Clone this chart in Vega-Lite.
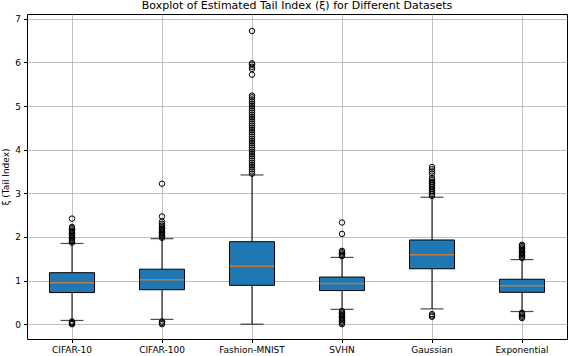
{
  "$schema": "https://vega.github.io/schema/vega-lite/v6.json",
  "width": 540,
  "height": 325,
  "autosize": "none",
  "padding": {"left": 27, "top": 14, "right": 5, "bottom": 17},
  "background": "white",
  "title": {"text": "Boxplot of Estimated Tail Index (ξ) for Different Datasets", "font": "DejaVu Sans", "fontSize": 11, "fontWeight": "normal", "color": "black", "anchor": "middle", "offset": 3},
  "config": {
    "view": {"stroke": "black", "strokeWidth": 1},
    "axis": {"labelFont": "DejaVu Sans", "titleFont": "DejaVu Sans", "labelFontSize": 9, "titleFontSize": 9, "labelColor": "black", "titleColor": "black", "titleFontWeight": "normal", "domain": false, "tickColor": "black", "tickSize": 3.5, "gridColor": "#b0b0b0", "gridWidth": 0.8, "gridOpacity": 1}
  },
  "datasets": {
    "stats": [
      {"dataset": "CIFAR-10", "lo": 0.085, "q1": 0.725, "median": 0.95, "q3": 1.18, "hi": 1.85},
      {"dataset": "CIFAR-100", "lo": 0.11, "q1": 0.79, "median": 1.02, "q3": 1.26, "hi": 1.96},
      {"dataset": "Fashion-MNIST", "lo": 0.0, "q1": 0.89, "median": 1.33, "q3": 1.89, "hi": 3.42},
      {"dataset": "SVHN", "lo": 0.34, "q1": 0.77, "median": 0.93, "q3": 1.08, "hi": 1.53},
      {"dataset": "Gaussian", "lo": 0.35, "q1": 1.27, "median": 1.59, "q3": 1.93, "hi": 2.91},
      {"dataset": "Exponential", "lo": 0.29, "q1": 0.73, "median": 0.88, "q3": 1.03, "hi": 1.48}
    ],
    "outliers": [
      {"dataset": "CIFAR-10", "value": 1.87}, {"dataset": "CIFAR-10", "value": 1.9}, {"dataset": "CIFAR-10", "value": 1.93}, {"dataset": "CIFAR-10", "value": 1.96}, {"dataset": "CIFAR-10", "value": 1.99}, {"dataset": "CIFAR-10", "value": 2.02}, {"dataset": "CIFAR-10", "value": 2.05}, {"dataset": "CIFAR-10", "value": 2.08}, {"dataset": "CIFAR-10", "value": 2.11}, {"dataset": "CIFAR-10", "value": 2.14}, {"dataset": "CIFAR-10", "value": 2.17}, {"dataset": "CIFAR-10", "value": 2.2}, {"dataset": "CIFAR-10", "value": 2.23}, {"dataset": "CIFAR-10", "value": 2.42},
      {"dataset": "CIFAR-10", "value": 0.0}, {"dataset": "CIFAR-10", "value": 0.02}, {"dataset": "CIFAR-10", "value": 0.04}, {"dataset": "CIFAR-10", "value": 0.06},
      {"dataset": "CIFAR-100", "value": 1.98}, {"dataset": "CIFAR-100", "value": 2.01}, {"dataset": "CIFAR-100", "value": 2.04}, {"dataset": "CIFAR-100", "value": 2.07}, {"dataset": "CIFAR-100", "value": 2.1}, {"dataset": "CIFAR-100", "value": 2.13}, {"dataset": "CIFAR-100", "value": 2.16}, {"dataset": "CIFAR-100", "value": 2.19}, {"dataset": "CIFAR-100", "value": 2.22}, {"dataset": "CIFAR-100", "value": 2.26}, {"dataset": "CIFAR-100", "value": 2.3}, {"dataset": "CIFAR-100", "value": 2.35}, {"dataset": "CIFAR-100", "value": 2.47}, {"dataset": "CIFAR-100", "value": 3.22},
      {"dataset": "CIFAR-100", "value": 0.0}, {"dataset": "CIFAR-100", "value": 0.03}, {"dataset": "CIFAR-100", "value": 0.06},
      {"dataset": "Fashion-MNIST", "value": 3.45}, {"dataset": "Fashion-MNIST", "value": 3.5}, {"dataset": "Fashion-MNIST", "value": 3.55}, {"dataset": "Fashion-MNIST", "value": 3.6}, {"dataset": "Fashion-MNIST", "value": 3.65}, {"dataset": "Fashion-MNIST", "value": 3.7}, {"dataset": "Fashion-MNIST", "value": 3.75}, {"dataset": "Fashion-MNIST", "value": 3.8}, {"dataset": "Fashion-MNIST", "value": 3.85}, {"dataset": "Fashion-MNIST", "value": 3.9}, {"dataset": "Fashion-MNIST", "value": 3.95}, {"dataset": "Fashion-MNIST", "value": 4.0}, {"dataset": "Fashion-MNIST", "value": 4.05}, {"dataset": "Fashion-MNIST", "value": 4.1}, {"dataset": "Fashion-MNIST", "value": 4.15}, {"dataset": "Fashion-MNIST", "value": 4.2}, {"dataset": "Fashion-MNIST", "value": 4.25}, {"dataset": "Fashion-MNIST", "value": 4.3}, {"dataset": "Fashion-MNIST", "value": 4.35}, {"dataset": "Fashion-MNIST", "value": 4.4}, {"dataset": "Fashion-MNIST", "value": 4.45}, {"dataset": "Fashion-MNIST", "value": 4.5}, {"dataset": "Fashion-MNIST", "value": 4.55}, {"dataset": "Fashion-MNIST", "value": 4.6}, {"dataset": "Fashion-MNIST", "value": 4.65}, {"dataset": "Fashion-MNIST", "value": 4.7}, {"dataset": "Fashion-MNIST", "value": 4.75}, {"dataset": "Fashion-MNIST", "value": 4.8}, {"dataset": "Fashion-MNIST", "value": 4.85}, {"dataset": "Fashion-MNIST", "value": 4.9}, {"dataset": "Fashion-MNIST", "value": 4.95}, {"dataset": "Fashion-MNIST", "value": 5.0}, {"dataset": "Fashion-MNIST", "value": 5.05}, {"dataset": "Fashion-MNIST", "value": 5.1}, {"dataset": "Fashion-MNIST", "value": 5.15}, {"dataset": "Fashion-MNIST", "value": 5.2}, {"dataset": "Fashion-MNIST", "value": 5.24}, {"dataset": "Fashion-MNIST", "value": 5.72}, {"dataset": "Fashion-MNIST", "value": 5.85}, {"dataset": "Fashion-MNIST", "value": 5.9}, {"dataset": "Fashion-MNIST", "value": 5.95}, {"dataset": "Fashion-MNIST", "value": 5.98}, {"dataset": "Fashion-MNIST", "value": 6.72},
      {"dataset": "SVHN", "value": 1.56}, {"dataset": "SVHN", "value": 1.59}, {"dataset": "SVHN", "value": 1.62}, {"dataset": "SVHN", "value": 1.65}, {"dataset": "SVHN", "value": 1.68}, {"dataset": "SVHN", "value": 2.07}, {"dataset": "SVHN", "value": 2.33},
      {"dataset": "SVHN", "value": 0.0}, {"dataset": "SVHN", "value": 0.03}, {"dataset": "SVHN", "value": 0.06}, {"dataset": "SVHN", "value": 0.09}, {"dataset": "SVHN", "value": 0.12}, {"dataset": "SVHN", "value": 0.15}, {"dataset": "SVHN", "value": 0.18}, {"dataset": "SVHN", "value": 0.21}, {"dataset": "SVHN", "value": 0.24}, {"dataset": "SVHN", "value": 0.27}, {"dataset": "SVHN", "value": 0.3},
      {"dataset": "Gaussian", "value": 2.94}, {"dataset": "Gaussian", "value": 2.98}, {"dataset": "Gaussian", "value": 3.02}, {"dataset": "Gaussian", "value": 3.06}, {"dataset": "Gaussian", "value": 3.1}, {"dataset": "Gaussian", "value": 3.14}, {"dataset": "Gaussian", "value": 3.18}, {"dataset": "Gaussian", "value": 3.22}, {"dataset": "Gaussian", "value": 3.26}, {"dataset": "Gaussian", "value": 3.3}, {"dataset": "Gaussian", "value": 3.35}, {"dataset": "Gaussian", "value": 3.45}, {"dataset": "Gaussian", "value": 3.5}, {"dataset": "Gaussian", "value": 3.55}, {"dataset": "Gaussian", "value": 3.6},
      {"dataset": "Gaussian", "value": 0.17}, {"dataset": "Gaussian", "value": 0.2}, {"dataset": "Gaussian", "value": 0.23},
      {"dataset": "Exponential", "value": 1.52}, {"dataset": "Exponential", "value": 1.55}, {"dataset": "Exponential", "value": 1.58}, {"dataset": "Exponential", "value": 1.61}, {"dataset": "Exponential", "value": 1.64}, {"dataset": "Exponential", "value": 1.67}, {"dataset": "Exponential", "value": 1.7}, {"dataset": "Exponential", "value": 1.73}, {"dataset": "Exponential", "value": 1.76}, {"dataset": "Exponential", "value": 1.79}, {"dataset": "Exponential", "value": 1.82},
      {"dataset": "Exponential", "value": 0.14}, {"dataset": "Exponential", "value": 0.17}, {"dataset": "Exponential", "value": 0.2}, {"dataset": "Exponential", "value": 0.23}, {"dataset": "Exponential", "value": 0.26}
    ]
  },
  "encoding": {
    "x": {"field": "dataset", "type": "nominal", "sort": ["CIFAR-10", "CIFAR-100", "Fashion-MNIST", "SVHN", "Gaussian", "Exponential"], "scale": {"paddingInner": 0, "paddingOuter": 0}, "axis": {"title": null, "labelAngle": 0, "grid": true, "bandPosition": 0.5, "labelPadding": 3}}
  },
  "layer": [
    {
      "data": {"name": "stats"},
      "mark": {"type": "rule", "color": "black", "strokeWidth": 1},
      "encoding": {
        "y": {"field": "lo", "type": "quantitative", "scale": {"domain": [-0.34, 7.11], "nice": false, "zero": false}, "axis": {"title": "ξ (Tail Index)", "values": [0, 1, 2, 3, 4, 5, 6, 7], "grid": true, "labelPadding": 3, "titlePadding": 4}},
        "y2": {"field": "hi"}
      }
    },
    {
      "data": {"name": "stats"},
      "mark": {"type": "bar", "fill": "#1f77b4", "stroke": "black", "strokeWidth": 1, "width": {"band": 0.5}},
      "encoding": {
        "y": {"field": "q1", "type": "quantitative"},
        "y2": {"field": "q3"}
      }
    },
    {
      "data": {"name": "stats"},
      "mark": {"type": "tick", "color": "#ff7f0e", "size": 45, "thickness": 1.5},
      "encoding": {"y": {"field": "median", "type": "quantitative"}}
    },
    {
      "data": {"name": "stats"},
      "mark": {"type": "tick", "color": "black", "size": 23, "thickness": 1.2},
      "encoding": {"y": {"field": "lo", "type": "quantitative"}}
    },
    {
      "data": {"name": "stats"},
      "mark": {"type": "tick", "color": "black", "size": 23, "thickness": 1.2},
      "encoding": {"y": {"field": "hi", "type": "quantitative"}}
    },
    {
      "data": {"name": "outliers"},
      "mark": {"type": "point", "shape": "circle", "filled": false, "stroke": "black", "strokeWidth": 1, "size": 30, "opacity": 1},
      "encoding": {"y": {"field": "value", "type": "quantitative"}}
    }
  ]
}
